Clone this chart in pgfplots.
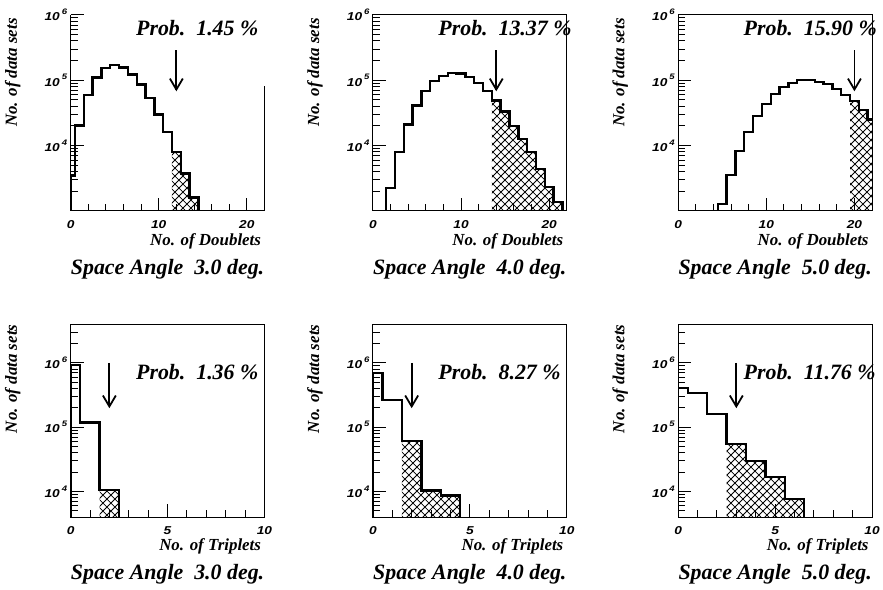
\documentclass[border=0pt]{standalone}
\usepackage{fontspec}
\setmainfont{Liberation Serif}
\newfontfamily\tickfont{Liberation Sans}[FakeStretch=1.2]
\usepackage{pgfplots}
\pgfplotsset{compat=1.18}
\usetikzlibrary{patterns}

\newcommand\labf{\fontsize{17}{17}\selectfont\bfseries\itshape}
\newcommand\ttlf{\fontsize{22}{22}\selectfont\bfseries\itshape}
\newcommand\tkf{\tickfont\fontsize{11.5}{11.5}\selectfont\bfseries\itshape}
\newcommand\tk[1]{{\tkf #1}}
\newcommand\tenp[1]{{\tkf 10\,\raisebox{0.55em}{\fontsize{8}{8}\selectfont #1}}}

\pgfdeclarepatternformonly{bigcross}{\pgfpointorigin}{\pgfpoint{8pt}{8pt}}{\pgfpoint{8pt}{8pt}}{%
  \pgfsetlinewidth{0.75pt}%
  \pgfpathmoveto{\pgfpointorigin}\pgfpathlineto{\pgfpoint{8pt}{8pt}}%
  \pgfpathmoveto{\pgfpoint{0pt}{8pt}}\pgfpathlineto{\pgfpoint{8pt}{0pt}}%
  \pgfusepath{stroke}}

\begin{document}
\begin{tikzpicture}
\path (0pt,0pt) rectangle (883pt,593pt);

% ---------- Panel 1 ----------
\begin{axis}[scale only axis, anchor=south west, at={(71pt,381pt)}, width=195pt, height=197pt,
  ymode=log, xmin=0, xmax=22, ymin=1000, ymax=1000000,
  axis x line*=bottom, axis y line*=left,
  tick align=inside, major tick length=13pt, minor tick length=7pt,
  axis line style={line width=1.1pt}, tick style={black, line width=0.9pt},
  xtick={0,10,20}, xticklabels={\tk{0},\tk{10},\tk{20}}, minor x tick num=4,
  ytick={10000,100000,1000000}, yticklabels={\tenp{4},\tenp{5},\tenp{6}},
  minor ytick={2000,3000,4000,5000,6000,7000,8000,9000,20000,30000,40000,50000,60000,70000,80000,90000,200000,300000,400000,500000,600000,700000,800000,900000},
  xticklabel style={yshift=-6pt}]
\addplot[const plot mark left, draw=none, pattern=bigcross] coordinates {(11.5,1000)(11.5,7900)(12.5,3700)(13.5,1600)(14.5,1000)};
\addplot[const plot mark left, black, line width=2.4pt, mark=none] coordinates {(0,1000)(0,3450)(0.5,20300)(1.5,59000)(2.5,110000)(3.5,155000)(4.5,170000)(5.5,156000)(6.5,122000)(7.5,86000)(8.5,53000)(9.5,30000)(10.5,16000)(11.5,7900)(12.5,3700)(13.5,1600)(14.5,1000)};
\draw[line width=1.8pt] (axis cs:12,290000) -- (axis cs:12,72000);
\draw[line width=1.8pt, miter limit=4] ([xshift=-6.5pt,yshift=11pt]axis cs:12,72000) -- (axis cs:12,72000) -- ([xshift=6.5pt,yshift=11pt]axis cs:12,72000);
\end{axis}
\draw[line width=1.1pt] (266pt,506pt) -- (266pt,381pt);

% ---------- Panel 2 ----------
\begin{axis}[scale only axis, anchor=south west, at={(375pt,381pt)}, width=195pt, height=197pt,
  ymode=log, xmin=0, xmax=22, ymin=1000, ymax=1000000,
  tick pos=left, tick align=inside, major tick length=13pt, minor tick length=7pt,
  axis line style={line width=1.1pt}, tick style={black, line width=0.9pt},
  xtick={0,10,20}, xticklabels={\tk{0},\tk{10},\tk{20}}, minor x tick num=4,
  ytick={10000,100000,1000000}, yticklabels={\tenp{4},\tenp{5},\tenp{6}},
  minor ytick={2000,3000,4000,5000,6000,7000,8000,9000,20000,30000,40000,50000,60000,70000,80000,90000,200000,300000,400000,500000,600000,700000,800000,900000},
  xticklabel style={yshift=-6pt}]
\addplot[const plot mark left, draw=none, pattern=bigcross] coordinates {(13.5,1000)(13.5,49000)(14.5,33000)(15.5,20000)(16.5,12700)(17.5,7900)(18.5,4400)(19.5,2300)(20.5,1350)(21.5,1000)};
\addplot[const plot mark left, black, line width=2.4pt, mark=none] coordinates {(1.5,1000)(1.5,2250)(2.5,7900)(3.5,21000)(4.5,41000)(5.5,69000)(6.5,97000)(7.5,116000)(8.5,130000)(9.5,127000)(10.5,112000)(11.5,91000)(12.5,69000)(13.5,49000)(14.5,33000)(15.5,20000)(16.5,12700)(17.5,7900)(18.5,4400)(19.5,2300)(20.5,1350)(21.5,1000)};
\draw[line width=1.8pt] (axis cs:14,290000) -- (axis cs:14,72000);
\draw[line width=1.8pt, miter limit=4] ([xshift=-6.5pt,yshift=11pt]axis cs:14,72000) -- (axis cs:14,72000) -- ([xshift=6.5pt,yshift=11pt]axis cs:14,72000);
\end{axis}

% ---------- Panel 3 ----------
\begin{axis}[scale only axis, anchor=south west, at={(682pt,381pt)}, width=195pt, height=197pt,
  ymode=log, xmin=0, xmax=22, ymin=1000, ymax=1000000,
  tick pos=left, tick align=inside, major tick length=13pt, minor tick length=7pt,
  axis line style={line width=1.1pt}, tick style={black, line width=0.9pt},
  xtick={0,10,20}, xticklabels={\tk{0},\tk{10},\tk{20}}, minor x tick num=4,
  ytick={10000,100000,1000000}, yticklabels={\tenp{4},\tenp{5},\tenp{6}},
  minor ytick={2000,3000,4000,5000,6000,7000,8000,9000,20000,30000,40000,50000,60000,70000,80000,90000,200000,300000,400000,500000,600000,700000,800000,900000},
  xticklabel style={yshift=-6pt}]
\addplot[const plot mark left, draw=none, pattern=bigcross] coordinates {(19.5,1000)(19.5,48000)(20.5,35000)(21.5,25000)(22.5,1000)};
\addplot[const plot mark left, black, line width=2.4pt, mark=none] coordinates {(4.5,1000)(4.5,1260)(5.5,3570)(6.5,8200)(7.5,16000)(8.5,28000)(9.5,43000)(10.5,62000)(11.5,79000)(12.5,91000)(13.5,100000)(14.5,100000)(15.5,94000)(16.5,87000)(17.5,74000)(18.5,59000)(19.5,48000)(20.5,35000)(21.5,25000)(22.5,1000)};
\draw[line width=1.8pt] (axis cs:20,290000) -- (axis cs:20,72000);
\draw[line width=1.8pt, miter limit=4] ([xshift=-6.5pt,yshift=11pt]axis cs:20,72000) -- (axis cs:20,72000) -- ([xshift=6.5pt,yshift=11pt]axis cs:20,72000);
\end{axis}

% ---------- Panel 4 ----------
\begin{axis}[scale only axis, anchor=south west, at={(71pt,73pt)}, width=195pt, height=194pt,
  ymode=log, xmin=0, xmax=10, ymin=4000, ymax=4000000,
  tick pos=left, tick align=inside, major tick length=13pt, minor tick length=7pt,
  axis line style={line width=1.1pt}, tick style={black, line width=0.9pt},
  xtick={0,5,10}, xticklabels={\tk{0},\tk{5},\tk{10}}, minor x tick num=4,
  ytick={10000,100000,1000000}, yticklabels={\tenp{4},\tenp{5},\tenp{6}},
  minor ytick={5000,6000,7000,8000,9000,20000,30000,40000,50000,60000,70000,80000,90000,200000,300000,400000,500000,600000,700000,800000,900000,2000000,3000000},
  xticklabel style={yshift=-6pt}]
\addplot[const plot mark left, draw=none, pattern=bigcross] coordinates {(1.5,4000)(1.5,10600)(2.5,4000)};
\addplot[const plot mark left, black, line width=2.4pt, mark=none] coordinates {(0,4000)(0,920000)(0.5,118000)(1.5,10600)(2.5,4000)};
\draw[line width=1.8pt] (axis cs:2,1000000) -- (axis cs:2,210000);
\draw[line width=1.8pt, miter limit=4] ([xshift=-6.5pt,yshift=11pt]axis cs:2,210000) -- (axis cs:2,210000) -- ([xshift=6.5pt,yshift=11pt]axis cs:2,210000);
\end{axis}

% ---------- Panel 5 ----------
\begin{axis}[scale only axis, anchor=south west, at={(375pt,73pt)}, width=195pt, height=194pt,
  ymode=log, xmin=0, xmax=10, ymin=4000, ymax=4000000,
  tick pos=left, tick align=inside, major tick length=13pt, minor tick length=7pt,
  axis line style={line width=1.1pt}, tick style={black, line width=0.9pt},
  xtick={0,5,10}, xticklabels={\tk{0},\tk{5},\tk{10}}, minor x tick num=4,
  ytick={10000,100000,1000000}, yticklabels={\tenp{4},\tenp{5},\tenp{6}},
  minor ytick={5000,6000,7000,8000,9000,20000,30000,40000,50000,60000,70000,80000,90000,200000,300000,400000,500000,600000,700000,800000,900000,2000000,3000000},
  xticklabel style={yshift=-6pt}]
\addplot[const plot mark left, draw=none, pattern=bigcross] coordinates {(1.5,4000)(1.5,61000)(2.5,10400)(3.5,8600)(4.5,4000)};
\addplot[const plot mark left, black, line width=2.4pt, mark=none] coordinates {(0,4000)(0,700000)(0.5,262000)(1.5,61000)(2.5,10400)(3.5,8600)(4.5,4000)};
\draw[line width=1.8pt] (axis cs:2,1000000) -- (axis cs:2,210000);
\draw[line width=1.8pt, miter limit=4] ([xshift=-6.5pt,yshift=11pt]axis cs:2,210000) -- (axis cs:2,210000) -- ([xshift=6.5pt,yshift=11pt]axis cs:2,210000);
\end{axis}

% ---------- Panel 6 ----------
\begin{axis}[scale only axis, anchor=south west, at={(682pt,73pt)}, width=195pt, height=194pt,
  ymode=log, xmin=0, xmax=10, ymin=4000, ymax=4000000,
  tick pos=left, tick align=inside, major tick length=13pt, minor tick length=7pt,
  axis line style={line width=1.1pt}, tick style={black, line width=0.9pt},
  xtick={0,5,10}, xticklabels={\tk{0},\tk{5},\tk{10}}, minor x tick num=4,
  ytick={10000,100000,1000000}, yticklabels={\tenp{4},\tenp{5},\tenp{6}},
  minor ytick={5000,6000,7000,8000,9000,20000,30000,40000,50000,60000,70000,80000,90000,200000,300000,400000,500000,600000,700000,800000,900000,2000000,3000000},
  xticklabel style={yshift=-6pt}]
\addplot[const plot mark left, draw=none, pattern=bigcross] coordinates {(2.5,4000)(2.5,55000)(3.5,30000)(4.5,16700)(5.5,7600)(6.5,4000)};
\addplot[const plot mark left, black, line width=2.4pt, mark=none] coordinates {(0,4000)(0,403000)(0.5,337000)(1.5,160000)(2.5,55000)(3.5,30000)(4.5,16700)(5.5,7600)(6.5,4000)};
\draw[line width=1.8pt] (axis cs:3,1000000) -- (axis cs:3,210000);
\draw[line width=1.8pt, miter limit=4] ([xshift=-6.5pt,yshift=11pt]axis cs:3,210000) -- (axis cs:3,210000) -- ([xshift=6.5pt,yshift=11pt]axis cs:3,210000);
\end{axis}

% ---------- texts ----------
\foreach \xx/\pp/\aa in {71/1.45/3.0, 375/13.37/4.0, 682/15.90/5.0} {
  \node[font=\ttlf, anchor=base west] at (\xx pt+62.4pt,557pt) {Prob.\ \ \pp\ \%};
  \node[font=\ttlf, anchor=base] at (\xx pt+97.5pt,317pt) {Space Angle\ \ \aa\ deg.};
  \node[font=\labf, anchor=base east] at (\xx pt+195pt,346pt) {No. of Doublets};
  \node[font=\labf, anchor=south east, rotate=90] at (\xx pt-47pt,578pt) {No. of data sets};
}
\foreach \xx/\pp/\aa in {71/1.36/3.0, 375/8.27/4.0, 682/11.76/5.0} {
  \node[font=\ttlf, anchor=base west] at (\xx pt+62.4pt,211.7pt) {Prob.\ \ \pp\ \%};
  \node[font=\ttlf, anchor=base] at (\xx pt+97.5pt,10pt) {Space Angle\ \ \aa\ deg.};
  \node[font=\labf, anchor=base east] at (\xx pt+195pt,39pt) {No. of Triplets};
  \node[font=\labf, anchor=south east, rotate=90] at (\xx pt-47pt,270pt) {No. of data sets};
}
\end{tikzpicture}
\end{document}
